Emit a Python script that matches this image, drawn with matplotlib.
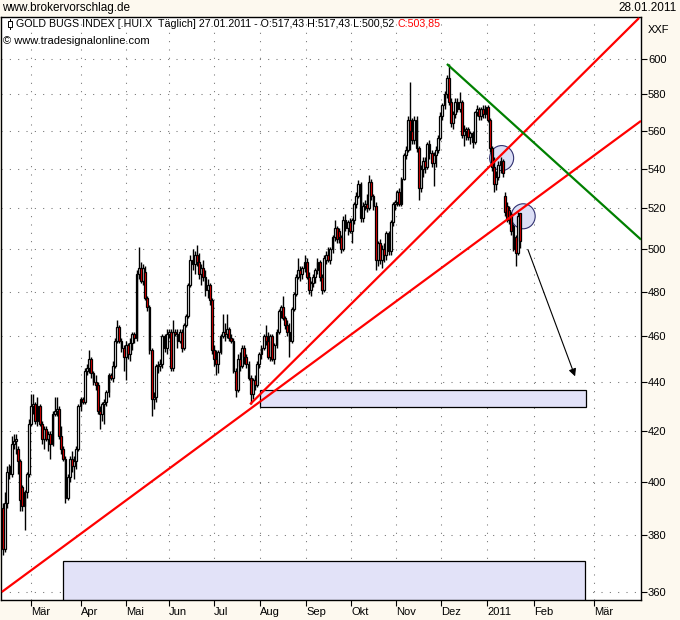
import numpy as np
import matplotlib.pyplot as plt
from matplotlib.patches import Rectangle, Ellipse

# Daily candles, Gold Bugs Index (.HUI.X), mid Feb 2010 - 27 Jan 2011
opens = [390, 375, 392, 406, 403, 415, 416, 413, 408, 398, 391, 396, 403, 423, 430, 431, 424, 430, 423, 417,
         421, 417, 419, 415, 427, 428, 429, 418, 413, 409, 394, 402, 409, 406, 408, 413, 430, 433, 432, 445,
         446, 450, 444, 440, 439, 428, 427, 431, 432, 436, 443, 442, 447, 458, 464, 458, 455, 451, 456, 452,
         457, 461, 459, 488, 491, 485, 489, 477, 473, 454, 433, 434, 447, 447, 448, 460, 455, 461, 462, 446,
         462, 461, 458, 462, 455, 465, 469, 483, 495, 493, 497, 494, 488, 491, 487, 481, 483, 476, 454, 450,
         448, 453, 460, 462, 461, 463, 459, 458, 445, 437, 450, 447, 455, 451, 448, 442, 435, 441, 439, 448,
         452, 455, 460, 458, 451, 460, 450, 456, 462, 471, 473, 468, 465, 462, 458, 472, 479, 487, 490, 488,
         491, 494, 487, 481, 484, 487, 490, 494, 487, 481, 495, 497, 495, 500, 506, 510, 509, 506, 500, 514,
         510, 513, 509, 514, 522, 526, 532, 515, 521, 522, 520, 533, 526, 521, 495, 503, 495, 500, 497, 508,
         499, 513, 522, 523, 528, 522, 535, 547, 550, 566, 560, 555, 566, 551, 530, 540, 544, 541, 553, 548,
         543, 547, 550, 556, 568, 574, 580, 589, 576, 564, 569, 576, 572, 576, 558, 560, 561, 557, 559, 554,
         570, 572, 568, 572, 569, 573, 566, 551, 541, 532, 536, 542, 544, 526, 521, 519, 517, 511, 506, 498,
         517.43]
highs = [392, 396, 406, 407, 418, 419, 419, 414, 409, 399, 397, 404, 425, 435, 435, 432, 434, 431, 424, 422,
         422, 420, 420, 428, 434, 434, 430, 422, 414, 410, 403, 410, 412, 410, 414, 431, 434, 434, 446, 448,
         454, 451, 445, 443, 440, 430, 432, 433, 437, 444, 444, 449, 459, 467, 465, 459, 456, 458, 457, 459,
         462, 462, 490, 501, 494, 493, 492, 478, 474, 455, 436, 448, 449, 450, 461, 461, 463, 463, 463, 467,
         463, 463, 463, 463, 466, 470, 484, 497, 500, 499, 502, 498, 493, 495, 490, 486, 484, 477, 456, 454,
         454, 461, 470, 466, 470, 464, 461, 459, 446, 452, 453, 456, 456, 452, 449, 443, 442, 443, 449, 453,
         456, 461, 465, 462, 461, 461, 457, 463, 472, 474, 478, 469, 467, 466, 473, 480, 488, 496, 492, 492,
         497, 496, 489, 485, 488, 491, 496, 495, 488, 497, 499, 501, 501, 507, 514, 511, 510, 507, 516, 517,
         514, 515, 515, 523, 528, 534, 533, 523, 524, 527, 537, 535, 527, 523, 504, 505, 502, 503, 509, 509,
         514, 523, 524, 529, 530, 536, 548, 552, 568, 587, 567, 568, 568, 552, 542, 546, 546, 554, 555, 550,
         549, 552, 558, 570, 575, 582, 591, 597, 578, 571, 578, 578, 581, 577, 563, 562, 562, 560, 560, 571,
         574, 573, 573, 574, 574, 574, 567, 552, 546, 539, 544, 546, 545, 528, 523, 521, 518, 512, 507, 518,
         517.43]
lows = [373, 374, 390, 401, 402, 413, 411, 403, 389, 389, 382, 394, 402, 422, 427, 423, 422, 422, 415, 413,
        416, 412, 409, 414, 426, 426, 417, 411, 408, 392, 393, 400, 404, 401, 405, 412, 428, 431, 431, 443,
        444, 442, 439, 437, 427, 421, 424, 423, 430, 434, 441, 440, 446, 457, 457, 453, 445, 441, 450, 449,
        454, 457, 458, 486, 484, 483, 476, 471, 452, 426, 429, 432, 444, 445, 446, 453, 452, 459, 445, 445,
        460, 455, 457, 453, 454, 464, 468, 482, 490, 488, 492, 486, 483, 485, 478, 477, 474, 452, 447, 443,
        444, 452, 459, 458, 459, 458, 457, 444, 434, 436, 445, 446, 448, 446, 441, 431, 433, 437, 438, 446,
        450, 454, 456, 450, 449, 449, 448, 455, 461, 468, 467, 463, 460, 451, 457, 471, 478, 486, 485, 486,
        489, 486, 479, 478, 482, 484, 488, 485, 479, 480, 493, 494, 493, 498, 504, 503, 503, 498, 499, 509,
        507, 508, 503, 512, 520, 525, 513, 513, 519, 518, 519, 524, 519, 490, 492, 493, 491, 494, 495, 497,
        497, 511, 519, 521, 521, 521, 534, 545, 549, 550, 553, 553, 549, 524, 528, 536, 538, 540, 545, 541,
        531, 541, 548, 555, 566, 572, 578, 574, 562, 561, 567, 570, 570, 556, 552, 555, 555, 553, 551, 553,
        568, 566, 566, 567, 567, 565, 549, 539, 528, 529, 534, 538, 536, 516, 513, 512, 507, 499, 492, 497,
        500.52]
closes = [375, 392, 404, 403, 415, 416, 417, 408, 393, 391, 396, 403, 423, 430, 431, 424, 430, 423, 417, 421,
          417, 419, 415, 427, 428, 429, 418, 413, 409, 394, 402, 409, 406, 408, 413, 430, 433, 432, 445, 446,
          450, 444, 440, 439, 428, 427, 431, 432, 436, 443, 442, 447, 458, 464, 458, 455, 451, 456, 452, 457,
          461, 459, 488, 491, 485, 491, 477, 473, 454, 433, 434, 447, 447, 448, 460, 455, 461, 462, 446, 462,
          461, 458, 462, 455, 465, 469, 483, 495, 493, 497, 494, 488, 491, 487, 481, 483, 476, 454, 450, 448,
          453, 460, 462, 461, 463, 459, 458, 445, 437, 450, 447, 455, 451, 448, 442, 435, 441, 439, 448, 452,
          455, 460, 458, 451, 460, 450, 456, 462, 471, 473, 468, 465, 462, 458, 472, 479, 487, 490, 488, 491,
          494, 487, 481, 484, 487, 490, 494, 487, 481, 496, 497, 495, 500, 506, 510, 505, 506, 500, 514, 510,
          513, 509, 514, 522, 526, 532, 515, 521, 522, 520, 533, 526, 521, 495, 503, 495, 500, 497, 508, 499,
          513, 522, 523, 528, 522, 535, 547, 550, 566, 560, 555, 566, 551, 530, 540, 544, 541, 553, 548, 543,
          547, 550, 556, 568, 574, 580, 589, 576, 564, 569, 576, 572, 576, 558, 560, 561, 557, 559, 554, 570,
          572, 568, 572, 569, 573, 566, 551, 541, 532, 536, 542, 544, 538, 518, 515, 514, 509, 500, 498, 516,
          503.85]

month_labels = ['Mär', 'Apr', 'Mai', 'Jun', 'Jul', 'Aug', 'Sep', 'Okt', 'Nov', 'Dez', '2011', 'Feb', 'Mär']
month_pos = [13.0, 36.2, 57.1, 77.1, 98.0, 119.3, 140.7, 161.6, 182.5, 203.3, 224.7, 246.5, 274.4]
price_ticks = [360, 380, 400, 420, 440, 460, 480, 500, 520, 540, 560, 580, 600]

# drawn-in analysis (trend lines, zones, marks), in (day index, price)
red_line_1 = [(-0.5, 360.0), (296.2, 565.4)]
red_line_2 = [(114.7, 430.9), (295.3, 624.0)]
green_line = [(206.1, 597.1), (296.2, 504.6)]
zone_1 = (119.3, 270.7, 429.6, 436.7)
zone_2 = (27.9, 270.2, 350.0, 370.8)
circles = [(231.5, 545.6), (241.5, 516.0)]
arrow_from = (243.7, 499.8)
arrow_to = (265.6, 442.6)

bg = '#fdf9ef'
fig = plt.figure(figsize=(6.8, 6.2), dpi=100, facecolor=bg)
ax = fig.add_axes([1 / 680, 20 / 620, 640 / 680, 583 / 620])
ax.set_facecolor('white')
ax.set_yscale('log')
ax.set_xlim(-0.93, 296.2)
ax.set_ylim(357.2, 624.6)

# grid
for p in price_ticks:
    ax.axhline(p, color='#707070', lw=0.75, ls=(0, (1, 7)), zorder=0)
for m in month_pos:
    ax.axvline(m, color='#707070', lw=0.75, ls=(0, (1, 7)), zorder=0)

# zones
for x0, x1, y0, y1 in [zone_1, zone_2]:
    ax.add_patch(Rectangle((x0, y0), x1 - x0, y1 - y0, facecolor='#e2e2f8',
                           edgecolor='black', lw=0.9, zorder=1))

# marker circles (drawn in axes fraction so they stay round), behind the candles
to_axes = ax.transData + ax.transAxes.inverted()
for cx, cy in circles:
    ax_x, ax_y = to_axes.transform((cx, cy))
    ax.add_patch(Ellipse((ax_x, ax_y), 24 / 640, 25 / 583, transform=ax.transAxes,
                         facecolor='#dcdff6', edgecolor='#303070', lw=0.8, zorder=1.5))

# candles
x = np.arange(len(closes))
o = np.array(opens, dtype=float)
c = np.array(closes, dtype=float)
h = np.array(highs, dtype=float)
l = np.array(lows, dtype=float)
ax.vlines(x, l, h, color='black', lw=1.0, zorder=2)
up = c >= o
body_lo = np.minimum(o, c)
body_hi = np.maximum(o, c)
body_hi = np.where(body_hi - body_lo < 0.4, body_lo + 0.4, body_hi)
ax.bar(x[up], (body_hi - body_lo)[up], bottom=body_lo[up], width=0.85,
       color='white', edgecolor='black', lw=0.9, zorder=3)
ax.bar(x[~up], (body_hi - body_lo)[~up], bottom=body_lo[~up], width=0.85,
       color='red', edgecolor='black', lw=0.9, zorder=3)

# trend lines
for pts, col in [(red_line_1, 'red'), (red_line_2, 'red'), (green_line, 'green')]:
    ax.plot([pts[0][0], pts[1][0]], [pts[0][1], pts[1][1]], color=col, lw=1.6, zorder=4,
            solid_capstyle='butt')

ax.annotate('', xy=arrow_to, xytext=arrow_from,
            arrowprops=dict(arrowstyle='-|>', color='black', lw=0.8, mutation_scale=11,
                            shrinkA=0, shrinkB=0), zorder=6)

# axes styling
for s in ax.spines.values():
    s.set_color('black')
    s.set_linewidth(1.0)
ax.yaxis.tick_right()
ax.set_yticks(price_ticks)
ax.set_yticklabels([str(p) for p in price_ticks])
ax.yaxis.set_minor_locator(plt.NullLocator())
ax.tick_params(axis='y', which='major', direction='out', length=4, width=0.8, pad=1,
               labelsize=8, colors='black')
ax.set_xticks(month_pos)
ax.set_xticklabels([])
ax.tick_params(axis='x', direction='out', length=4, width=0.8)
for m, lab in zip(month_pos, month_labels):
    ax.text(m, -0.012, lab, transform=ax.get_xaxis_transform(), ha='left', va='top',
            fontsize=8, fontfamily='Liberation Sans')
for lab in ax.get_yticklabels():
    lab.set_fontfamily('Liberation Sans')

# header texts
fig.text(2 / 680, 1 - 8 / 620, 'www.brokervorschlag.de', ha='left', va='center',
         fontsize=8.5, fontfamily='Liberation Sans')
fig.text(677 / 680, 1 - 8 / 620, '28.01.2011', ha='right', va='center',
         fontsize=8.5, fontfamily='Liberation Sans')
fig.text(648 / 680, 1 - 30 / 620, 'XXF', ha='left', va='center',
         fontsize=8, fontfamily='Liberation Sans')

t1 = ax.text(15 / 640, 1 - 7 / 583, 'GOLD BUGS INDEX [.HUI.X  Täglich] 27.01.2011 - O:517,43 H:517,43 L:500,52 ',
             transform=ax.transAxes, ha='left', va='center', fontsize=7.7,
             fontfamily='Liberation Sans', zorder=7)
fig.canvas.draw()
bb = t1.get_window_extent().transformed(ax.transAxes.inverted())
ax.text(bb.x1, 1 - 7 / 583, 'C:503,85', transform=ax.transAxes, ha='left', va='center',
        fontsize=7.7, color='red', fontfamily='Liberation Sans', zorder=7)
ax.text(2 / 640, 1 - 24 / 583, '© www.tradesignalonline.com', transform=ax.transAxes,
        ha='left', va='center', fontsize=8, fontfamily='Liberation Sans', zorder=7)
# small candle glyph before the title
ax.add_patch(Rectangle((7 / 640, 1 - 10 / 583), 4 / 640, 6 / 583, transform=ax.transAxes,
                       facecolor='white', edgecolor='black', lw=0.7, zorder=7))
ax.plot([9 / 640, 9 / 640], [1 - 12 / 583, 1 - 2 / 583], transform=ax.transAxes,
        color='black', lw=0.7, zorder=6)

fig.savefig('out.png', dpi=100, facecolor=bg)
